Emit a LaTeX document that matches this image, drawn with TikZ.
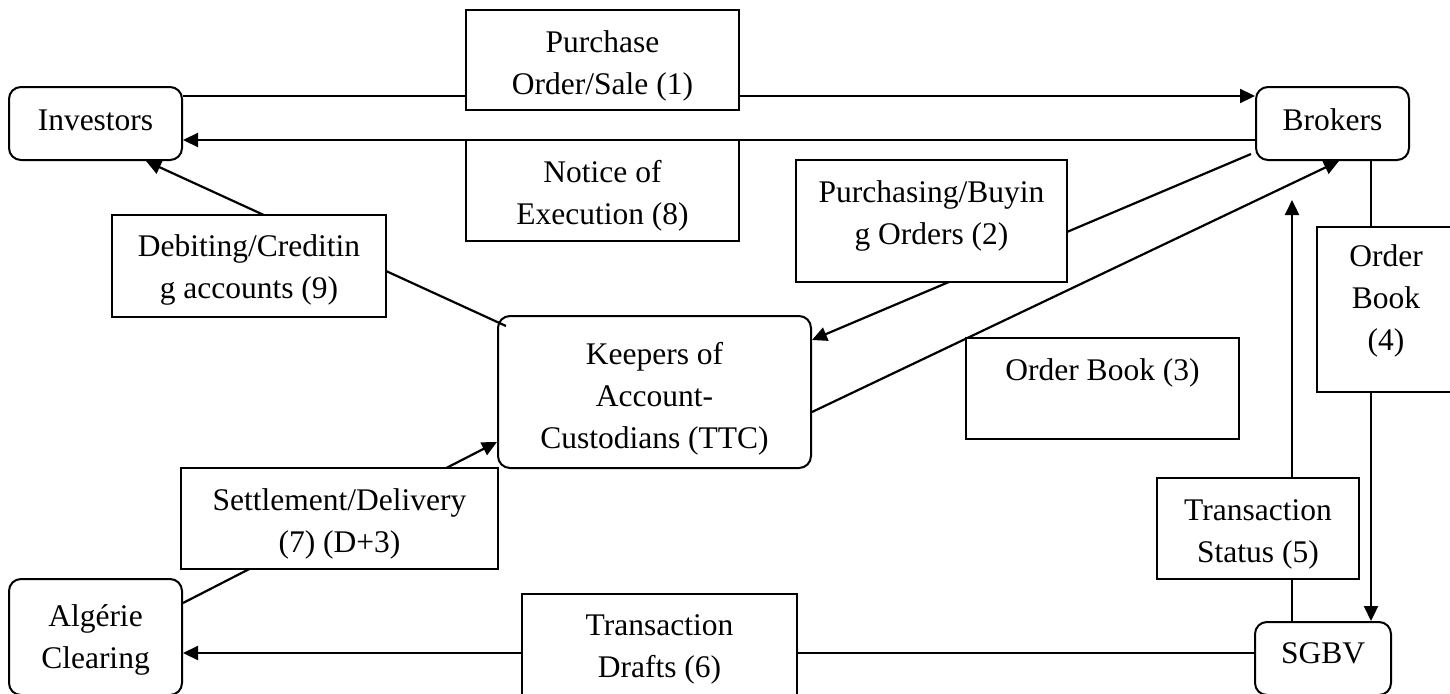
\documentclass[tikz,border=0pt]{standalone}
\usepackage{fontspec}
\setmainfont{Liberation Serif}
\usetikzlibrary{arrows.meta,calc}
\begin{document}
\begin{tikzpicture}[x=1pt,y=-1pt,
  every node/.style={font=\fontsize{31.5}{42}\selectfont, inner sep=0pt, align=center},
  mainbox/.style={draw, line width=2pt, rounded corners=12pt},
  lbl/.style={draw, line width=2pt, fill=white},
  txt/.style 2 args={label={[yshift=#1]center:{#2}}},
  arr/.style={line width=2.2pt, -{Triangle[length=15pt,width=14pt]}}]
\useasboundingbox (0,0) rectangle (1450,693);
% main nodes
\node[mainbox, minimum width=173pt, minimum height=73pt, txt={3pt}{Investors}] (inv) at (95.5,123.5) {};
\node[mainbox, minimum width=153pt, minimum height=73pt, txt={4pt}{Brokers}] (brk) at (1332.5,123.5) {};
\node[mainbox, minimum width=313pt, minimum height=152pt, txt={-6.5pt}{Keepers of\\Account-\\Custodians (TTC)}] (kpr) at (654.5,392) {};
\node[mainbox, minimum width=173pt, minimum height=116pt, txt={-2.5pt}{Algérie\\Clearing}] (alg) at (95.5,637) {};
\node[mainbox, minimum width=136pt, minimum height=73pt, txt={5pt}{SGBV}] (sgbv) at (1323,658.5) {};
% connectors
\draw[arr] (inv.east |- 0,96) -- (brk.west |- 0,96);
\draw[arr] (brk.west |- 0,140) -- (inv.east |- 0,140);
\draw[arr] ($(kpr.north west)+(9,11)$) -- ($(inv.south west)+(138,0)$);
\draw[arr] ($(brk.south west)+(-4,-7)$) -- (kpr.east |- 0,340);
\draw[arr] (kpr.east |- 0,412) -- ($(brk.south west)+(84,0)$);
\draw[arr] (brk.south -| 1371,0) -- (sgbv.north -| 1371,0);
\coordinate (t5) at (1292,200);
\draw[arr] (sgbv.north -| t5) -- (t5);
\draw[arr] (sgbv.west |- 0,653) -- (alg.east |- 0,653);
\draw[arr] (alg.east |- 0,603) -- (kpr.west |- 0,442);
% label boxes
\node[lbl, minimum width=273pt, minimum height=100pt, txt={-6pt}{Purchase\\Order/Sale (1)}] (l1) at (602.5,60) {};
\node[lbl, minimum width=273pt, minimum height=101pt, txt={-5pt}{Notice of\\Execution (8)}] (l8) at (602.5,190.5) {};
\node[lbl, minimum width=274pt, minimum height=102pt, txt={-4pt}{Debiting/Creditin\\g accounts (9)}] (l9) at (249,266) {};
\node[lbl, minimum width=271pt, minimum height=122pt, txt={5pt}{Purchasing/Buyin\\g Orders (2)}] (l2) at (931.5,221) {};
\node[lbl, minimum width=273pt, minimum height=101pt, txt={15.5pt}{Order Book (3)}] (l3) at (1102.5,388.5) {};
\node[lbl, minimum width=138pt, minimum height=165pt, txt={8.5pt}{Order\\Book\\(4)}] (l4) at (1386,309.5) {};
\node[lbl, minimum width=202pt, minimum height=101pt, txt={-6pt}{Transaction\\Status (5)}] (l5) at (1258,528.5) {};
\node[lbl, minimum width=275pt, minimum height=102pt, txt={-4pt}{Transaction\\Drafts (6)}] (l6) at (659.5,645) {};
\node[lbl, minimum width=317pt, minimum height=101pt, txt={-5pt}{Settlement/Delivery\\(7) (D+3)}] (l7) at (339.5,518.5) {};
\end{tikzpicture}
\end{document}
